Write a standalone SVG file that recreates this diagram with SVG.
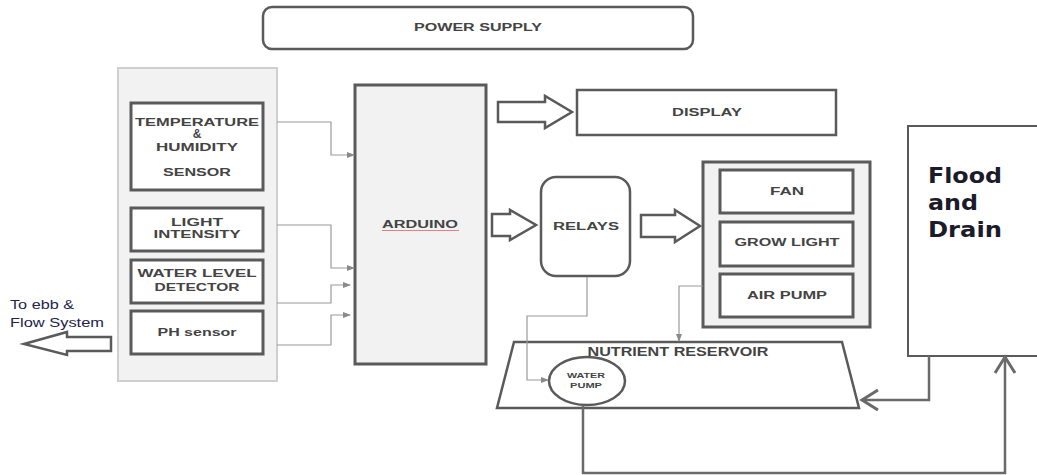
<svg xmlns="http://www.w3.org/2000/svg" width="1037" height="475" viewBox="0 0 1037 475">
<style>
.t{font-family:"Liberation Sans",Arial,sans-serif;font-weight:bold;fill:#444;text-anchor:middle}
.box{fill:#fff;stroke:#5a5a5a;stroke-width:3}
.grp{fill:#f2f2f2;stroke:#cfcfcf;stroke-width:2}
.thin{fill:none;stroke:#9a9a9a;stroke-width:1.2}
.thick{fill:none;stroke:#6a6a6a;stroke-width:2.5}
.barrow{fill:#fff;stroke:#5a5a5a;stroke-width:2.5;stroke-linejoin:miter}
</style>
<defs>
<marker id="sa" markerWidth="8" markerHeight="6" refX="7" refY="3" orient="auto" markerUnits="userSpaceOnUse">
<path d="M0,0 L8,3 L0,6 z" fill="#8a8a8a"/>
</marker>
<marker id="oa" markerWidth="22" markerHeight="26" refX="19" refY="13" orient="auto" markerUnits="userSpaceOnUse">
<path d="M3,3 L19,13 L3,23" fill="none" stroke="#6a6a6a" stroke-width="3"/>
</marker>
</defs>
<rect width="1037" height="475" fill="#fff"/>

<g id="power">
<rect x="263" y="7" width="430" height="42" rx="9" fill="#fff" stroke="#5a5a5a" stroke-width="2.5"/>
<text class="t" x="478" y="31" font-size="11" textLength="128" lengthAdjust="spacingAndGlyphs">POWER SUPPLY</text>
</g>

<g id="sensors">
<rect class="grp" x="118" y="68" width="159" height="313"/>
<g id="temp">
<rect class="box" x="131" y="103" width="132" height="87"/>
<text class="t" x="197" y="126" font-size="10.5" textLength="124" lengthAdjust="spacingAndGlyphs">TEMPERATURE</text>
<text class="t" x="197" y="138" font-size="12">&amp;</text>
<text class="t" x="197" y="151" font-size="10.5" textLength="82" lengthAdjust="spacingAndGlyphs">HUMIDITY</text>
<text class="t" x="197" y="176" font-size="10.5" textLength="68" lengthAdjust="spacingAndGlyphs">SENSOR</text>
</g>
<g id="light">
<rect class="box" x="131" y="208" width="132" height="43"/>
<text class="t" x="197" y="226" font-size="10.5" textLength="52" lengthAdjust="spacingAndGlyphs">LIGHT</text>
<text class="t" x="197" y="238" font-size="10.5" textLength="87" lengthAdjust="spacingAndGlyphs">INTENSITY</text>
</g>
<g id="water">
<rect class="box" x="131" y="260" width="132" height="43"/>
<text class="t" x="197" y="277" font-size="10.5" textLength="119" lengthAdjust="spacingAndGlyphs">WATER LEVEL</text>
<text class="t" x="197" y="291" font-size="10.5" textLength="85" lengthAdjust="spacingAndGlyphs">DETECTOR</text>
</g>
<g id="ph">
<rect class="box" x="131" y="311" width="132" height="43"/>
<text class="t" x="197" y="336" font-size="10.5" textLength="79" lengthAdjust="spacingAndGlyphs">PH sensor</text>
</g>
</g>

<g id="arduino">
<rect x="355" y="85" width="131" height="279" fill="#f2f2f2" stroke="#5a5a5a" stroke-width="3"/>
<text class="t" x="420" y="228" font-size="10.5" textLength="76" lengthAdjust="spacingAndGlyphs">ARDUINO</text>
<line x1="382" y1="230.5" x2="459" y2="230.5" stroke="#e57f86" stroke-width="1"/>
</g>

<g id="display">
<rect x="577" y="90" width="259" height="45" fill="#fff" stroke="#5a5a5a" stroke-width="2.5"/>
<text class="t" x="707" y="116" font-size="10.5" textLength="70" lengthAdjust="spacingAndGlyphs">DISPLAY</text>
</g>

<g id="relays">
<rect x="541" y="177" width="89" height="99" rx="15" fill="#fff" stroke="#5a5a5a" stroke-width="2.5"/>
<text class="t" x="586" y="230" font-size="10.5" textLength="66" lengthAdjust="spacingAndGlyphs">RELAYS</text>
</g>

<g id="actuators">
<rect x="703" y="162" width="167" height="165" fill="#f2f2f2" stroke="#5a5a5a" stroke-width="3"/>
<g id="fan">
<rect class="box" x="720" y="170" width="133" height="43"/>
<text class="t" x="787" y="195" font-size="10.5" textLength="34" lengthAdjust="spacingAndGlyphs">FAN</text>
</g>
<g id="growlight">
<rect class="box" x="720" y="222" width="133" height="44"/>
<text class="t" x="787" y="246" font-size="10.5" textLength="105" lengthAdjust="spacingAndGlyphs">GROW LIGHT</text>
</g>
<g id="airpump">
<rect class="box" x="720" y="274" width="133" height="43"/>
<text class="t" x="787" y="299" font-size="10.5" textLength="80" lengthAdjust="spacingAndGlyphs">AIR PUMP</text>
</g>
</g>

<g id="flood">
<rect x="908" y="126" width="140" height="230" fill="#fff" stroke="#5a5a5a" stroke-width="2"/>
<g font-family="'DejaVu Sans',Verdana,sans-serif" font-weight="bold" font-size="21" fill="#1b1b2a">
<text x="928" y="183" textLength="74" lengthAdjust="spacingAndGlyphs">Flood</text>
<text x="928" y="210" textLength="50" lengthAdjust="spacingAndGlyphs">and</text>
<text x="928" y="237" textLength="74" lengthAdjust="spacingAndGlyphs">Drain</text>
</g>
</g>

<g id="reservoir">
<path d="M514,342 L842,342 L859,408 L497,408 Z" fill="#fff" stroke="#5a5a5a" stroke-width="2.5"/>
<text class="t" x="678" y="356" font-size="12" textLength="181" lengthAdjust="spacingAndGlyphs">NUTRIENT RESERVOIR</text>
</g>

<g id="waterpump">
<ellipse cx="587" cy="381" rx="38" ry="24" fill="#fff" stroke="#5a5a5a" stroke-width="2.5"/>
<text class="t" x="586" y="378" font-size="7" textLength="38" lengthAdjust="spacingAndGlyphs">WATER</text>
<text class="t" x="586" y="388" font-size="7" textLength="32" lengthAdjust="spacingAndGlyphs">PUMP</text>
</g>

<g id="ebb">
<text x="10" y="309" font-family="'Liberation Sans',Arial,sans-serif" font-size="12" fill="#23234a" textLength="64" lengthAdjust="spacingAndGlyphs">To ebb &amp;</text>
<text x="10" y="327" font-family="'Liberation Sans',Arial,sans-serif" font-size="12" fill="#23234a" textLength="94" lengthAdjust="spacingAndGlyphs">Flow System</text>
</g>

<g id="connectors">
<path class="thin" d="M277,122 H331 V155 H354" marker-end="url(#sa)"/>
<path class="thin" d="M277,225 H331 V268 H354" marker-end="url(#sa)"/>
<path class="thin" d="M277,303 H331 V285 H350" marker-end="url(#sa)"/>
<path class="thin" d="M277,345 H331 V315 H350" marker-end="url(#sa)"/>
<path class="thin" d="M587,277 V316 H527 V380 H548" marker-end="url(#sa)"/>
<path class="thin" d="M703,286 H679 V341" marker-end="url(#sa)"/>
<path class="barrow" d="M498,102 H545 V96 L572,112 L545,128 V122 H498 Z"/>
<path class="barrow" d="M492,214 H510 V210 L536,225 L510,240 V236 H492 Z"/>
<path class="barrow" d="M641,215 H675 V210 L700,226 L675,242 V237 H641 Z"/>
<path class="barrow" d="M111,337 H67 V332 L24,344 L67,355 V351 H111 Z" stroke-width="1.5"/>
<path class="thick" d="M929,356 V400 H862" marker-end="url(#oa)"/>
<path class="thick" d="M583,405 V473 H1005 V357" marker-end="url(#oa)"/>
</g>
</svg>
